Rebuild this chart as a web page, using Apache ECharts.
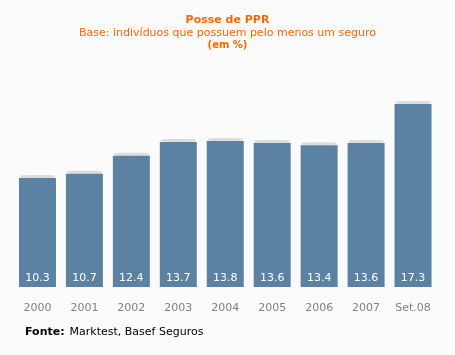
<!DOCTYPE html>
<html>
<head>
<meta charset="utf-8">
<script src="https://cdn.jsdelivr.net/npm/echarts@6/dist/echarts.min.js"></script>
<style>
html,body{margin:0;padding:0;background:#fbfbfb;}
#c{width:455px;height:355px;}
</style>
</head>
<body>
<div id="c"></div>
<script>
var categories = ['2000','2001','2002','2003','2004','2005','2006','2007','Set.08'];
var values = [10.3, 10.7, 12.4, 13.7, 13.8, 13.6, 13.4, 13.6, 17.3];
var titleText = 'Posse de PPR';
var subtitleText = 'Base: indivíduos que possuem pelo menos um seguro';
var unitText = '(em %)';
var sourceLabel = 'Fonte:';
var sourceText = 'Marktest, Basef Seguros';

var font = "'DejaVu Sans', Verdana, sans-serif";
var orange = '#ff6600';
var chart = echarts.init(document.getElementById('c'), null, {renderer:'canvas'});
chart.setOption({
  backgroundColor: '#fbfbfb',
  animation: false,
  title: [
    {text: titleText, left: 'center', top: 10, textStyle:{color:orange, fontSize:11, fontWeight:'bold', fontFamily:font}},
    {text: subtitleText, left: 'center', top: 23, textStyle:{color:orange, fontSize:11, fontWeight:'normal', fontFamily:font}},
    {text: unitText, left: 'center', top: 35, textStyle:{color:orange, fontSize:10, fontWeight:'bold', fontFamily:font}},
    {text: '{b|' + sourceLabel + '} {n|' + sourceText + '}', left: 20, top: 318,
      textStyle:{fontWeight:'normal', rich:{
        b:{color:'#000', fontSize:11, fontWeight:'bold', fontFamily:font},
        n:{color:'#000', fontSize:11, fontWeight:'normal', fontFamily:font}
      }}}
  ],
  grid: {left: 14, right: 18.5, top: 75.4, bottom: 68},
  xAxis: {
    type: 'category', data: categories,
    axisLine:{show:false}, axisTick:{show:false},
    axisLabel:{color:'#808080', fontSize:11, fontFamily:font, margin:16}
  },
  yAxis: {type:'value', min:0, max:20, show:false, splitLine:{show:false}},
  series: [
    {
      type:'bar', data: values, barWidth: 37,
      itemStyle:{color:'#5b82a2'},
      label:{show:true, position:'insideBottom', distance:3, color:'#fff', fontSize:11, fontFamily:font},
      z: 2
    },
    {
      type:'pictorialBar', data: values, symbol:'roundRect',
      symbolSize:[35, 3], symbolPosition:'end', symbolOffset:[0,'-100%'],
      itemStyle:{color:'#dcdcdc'}, z: 1, silent:true
    }
  ]
});
</script>
</body>
</html>
